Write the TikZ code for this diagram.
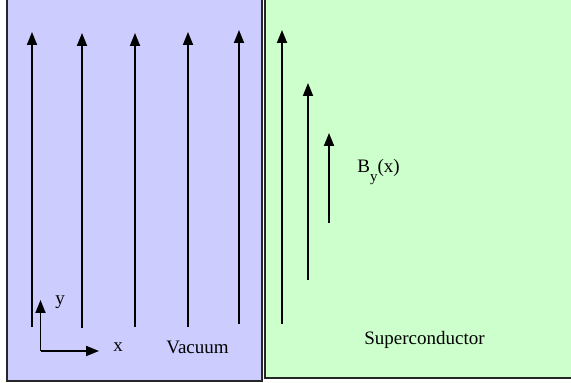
\documentclass[tikz,border=0pt]{standalone}
\usepackage{fontspec}
\setmainfont{Liberation Serif}
\usepackage{tikz}
\usetikzlibrary{arrows.meta}
\definecolor{vacblue}{RGB}{204,204,255}
\definecolor{scgreen}{RGB}{204,255,204}
\begin{document}
\begin{tikzpicture}[
    x=0.5pt, y=-0.5pt,
    region/.style={draw=black!85, line width=1pt},
    field/.style={-{Triangle[length=6.5pt, width=5pt]}, line width=0.9pt},
    lbl/.style={anchor=base west, inner sep=0pt, font=\fontsize{9.5}{11}\selectfont},
]
    \useasboundingbox (0,0) rectangle (571,383);
    \clip (0,0) rectangle (571,383);

    % the two half spaces
    \draw[region, fill=vacblue] (7,-10) rectangle (261.5,381.5);
    \draw[region, fill=scgreen] (265,-10) rectangle (600,378);

    % field lines in the vacuum
    \draw[field] (32,327) -- (32,32);
    \draw[field] (82,328) -- (82,33);
    \draw[field] (135,327) -- (135,33);
    \draw[field] (188,327) -- (188,32);
    \draw[field] (239,324) -- (239,30);

    % decaying field inside the superconductor
    \draw[field] (282,324) -- (282,30);
    \draw[field] (308,280) -- (308,83);
    \draw[field] (329,223) -- (329,133);

    % axes
    \coordinate (o) at (40.5,351);
    \coordinate (yend) at (40.5,300);
    \coordinate (xend) at (99,351);
    \draw[field] (o) -- (yend);
    \draw[field] (o) -- (xend);

    \node[lbl] (ylab) at (55,305) {y};
    \node[lbl] (xlab) at (113,352) {x};
    \node[lbl] (vac) at (166,354) {Vacuum};
    \node[lbl] (sc) at (364,344.5) {Superconductor};
    \node[lbl] (bfield) at (357,172.7) {B\raisebox{-4.6pt}{\fontsize{7.5}{8}\selectfont y}(x)};
\end{tikzpicture}
\end{document}
